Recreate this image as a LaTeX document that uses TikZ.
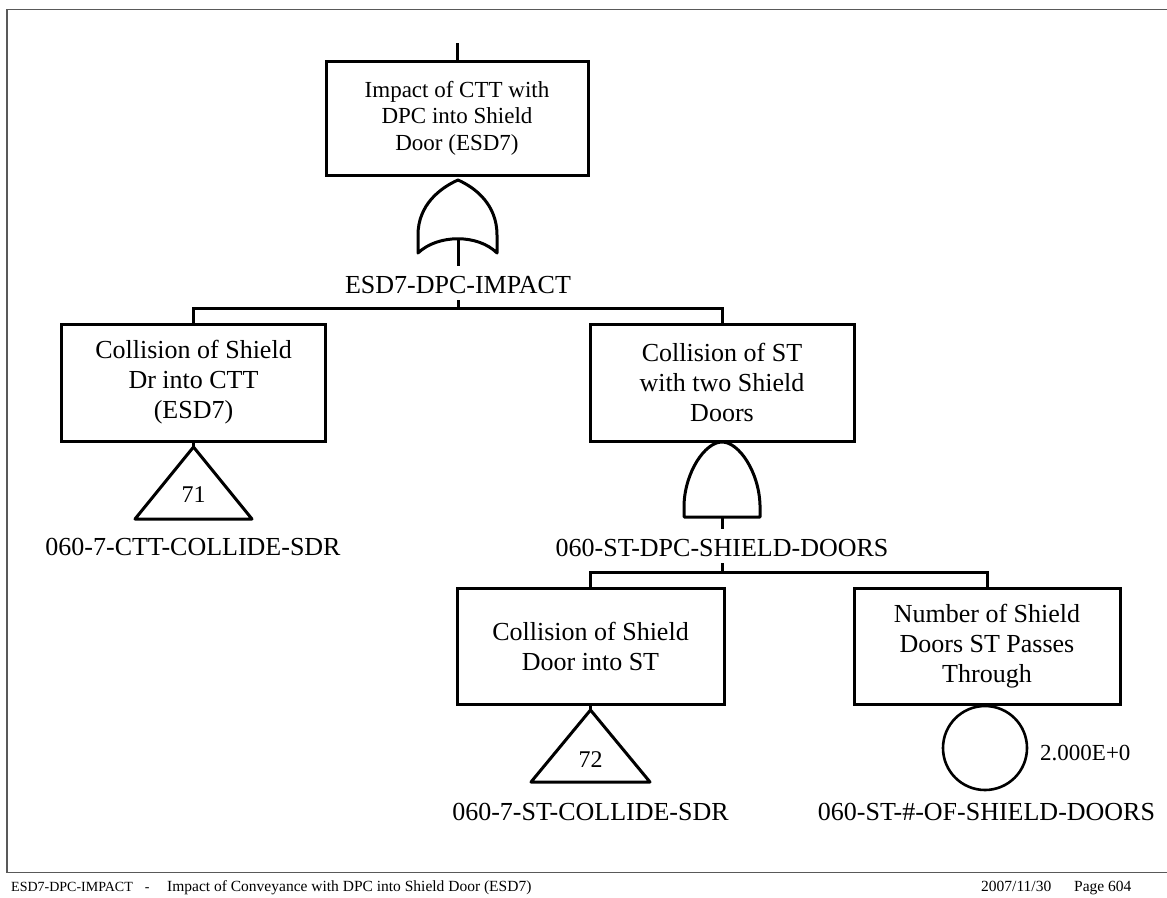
\documentclass[tikz,border=0pt]{standalone}
\usepackage{fontspec}
\setmainfont{Liberation Serif}
\begin{document}
\begin{tikzpicture}[x=1pt,y=-1pt,
  ev/.style={draw, line width=3pt, minimum width=264pt, minimum height=117pt, align=center, inner sep=0pt, font=\fontsize{26}{30}\selectfont},
  lbl/.style={inner sep=0pt, anchor=base, text height=27pt, text depth=7pt, font=\fontsize{26}{30}\selectfont},
  num/.style={inner sep=0pt, font=\fontsize{24}{28}\selectfont},
  wire/.style={line width=3pt},
  gate/.style={line width=3pt, line join=round},
  frame/.style={draw=black!65, line width=1.4pt},
  foot/.style={inner sep=0pt, anchor=base west, font=\fontsize{15.5}{17}\selectfont}]
\useasboundingbox (0,0) rectangle (1167,897);
% page frame
\draw[frame] (1167,9.5) -- (7,9.5) -- (7,872.5) -- (1167,872.5);

% top event
\node[ev, minimum width=262pt, minimum height=114pt, font=\fontsize{23}{26.5}\selectfont] (top) at (457,118) {Impact of CTT with\\DPC into Shield\\Door (ESD7)};
\coordinate (in) at (457,43);
\draw[wire] (in) -- (top.north);

% OR gate
\draw[gate] (418,253) -- (418,235) .. controls (418,205) and (440,188) .. (458,180) .. controls (476,188) and (497,205) .. (497,235) -- (497,253) .. controls (478,234) and (438,234) .. (418,253) -- cycle;
\coordinate (or1) at (458,238);
\node[lbl] (l1) at (458,293) {ESD7-DPC-IMPACT};
\draw[wire] (or1) -- (l1.north);
\coordinate (b1) at (458,308);
\draw[wire] (l1.south) -- (b1);

\node[ev] (cl) at (193.5,382.5) {Collision of Shield\\Dr into CTT\\(ESD7)};
\node[ev] (cr) at (722,382.5) {Collision of ST\\with two Shield\\Doors};
\draw[wire] (cl.north) |- (b1) -| (cr.north);

% transfer 71
\coordinate (t1) at (193.5,447);
\draw[wire] (cl.south) -- (t1);
\draw[gate] (t1) -- (135,519) -- (252,519) -- cycle;
\node[num] (n71) at (193.5,495) {71};
\node[lbl] (e1) at (193,555) {060-7-CTT-COLLIDE-SDR};

% AND gate
\draw[gate] (684,517) -- (684,505) .. controls (685,472) and (705,442) .. (722,442) .. controls (739,442) and (759,472) .. (760,505) -- (760,517) -- cycle;
\coordinate (and1) at (722,517);
\node[lbl] (l2) at (722,556) {060-ST-DPC-SHIELD-DOORS};
\draw[wire] (and1) -- (l2.north);
\coordinate (b2) at (722,572);
\draw[wire] (l2.south) -- (b2);

\node[ev, minimum width=267pt, minimum height=116pt] (bl) at (590.5,646) {Collision of Shield\\Door into ST};
\node[ev, minimum width=266pt, minimum height=116pt] (br) at (987,646) {Number of Shield\\Doors ST Passes\\Through};
\draw[wire] (bl.north) |- (b2) -| (br.north);

% transfer 72
\coordinate (t2) at (590.5,710);
\draw[wire] (bl.south) -- (t2);
\draw[gate] (t2) -- (531,782) -- (650,782) -- cycle;
\node[num] (n72) at (590.5,760) {72};
\node[lbl] (e2) at (590.5,820) {060-7-ST-COLLIDE-SDR};

% basic event
\node[draw, circle, line width=2.6pt, minimum size=84pt, inner sep=0pt] (c1) at (985,748) {};
\node[inner sep=0pt, anchor=west, font=\fontsize{23}{26}\selectfont] (v1) at (1040,753) {2.000E+0};
\node[lbl] (e3) at (986.5,820) {060-ST-\#-OF-SHIELD-DOORS};

% footer
\node[foot, font=\fontsize{14}{16}\selectfont] (f1) at (11,891) {ESD7-DPC-IMPACT\hspace{12pt}-};
\node[foot] (f1b) at (167,891) {Impact of Conveyance with DPC into Shield Door (ESD7)};
\node[foot] (f2) at (981,891) {2007/11/30};
\node[foot] (f3) at (1074,891) {Page 604};
\end{tikzpicture}
\end{document}
